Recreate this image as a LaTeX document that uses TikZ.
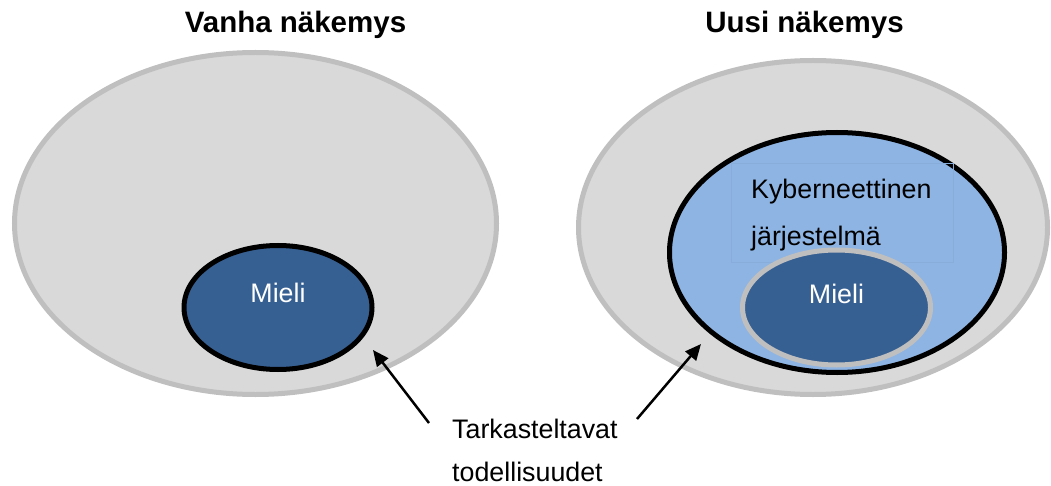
\documentclass[tikz,border=0pt]{standalone}
\usepackage{fontspec}
\setmainfont{Liberation Sans}
\usetikzlibrary{arrows.meta}
\definecolor{areagray}{HTML}{D9D9D9}
\definecolor{rimgray}{HTML}{BFBFBF}
\definecolor{mindblue}{HTML}{376092}
\definecolor{cyberblue}{HTML}{8EB4E3}
\definecolor{boxedge}{HTML}{89ADDA}
\tikzset{
  world/.style={fill=areagray, draw=rimgray, line width=5pt},
  mindring/.style={fill=mindblue, line width=5pt},
  label/.style={font=\fontsize{26.8}{30}\selectfont, anchor=base, inner sep=0pt},
  heading/.style={font=\bfseries\fontsize{29.5}{34}\selectfont, anchor=base, inner sep=0pt},
  pointer/.style={line width=2.5pt, -{Triangle[length=16pt,width=14pt]}}
}
\begin{document}
\begin{tikzpicture}[x=1pt,y=-1pt]
\useasboundingbox (0,0) rectangle (1051,486);

% headings
\node[heading] (hold) at (295.5,33) {Vanha näkemys};
\node[heading] (hnew) at (804.5,33) {Uusi näkemys};

% old view
\draw[world] (255.5,223.5) ellipse [x radius=241, y radius=171];
\draw[mindring, draw=black] (278,307.5) ellipse [x radius=94, y radius=62];
\node[label, text=white] (mind1) at (278,302) {Mieli};
\coordinate (old) at (373,350);

% new view
\draw[world] (813,227.5) ellipse [x radius=234.5, y radius=167];
\draw[fill=cyberblue, draw=black, line width=5pt] (837,252.5) ellipse [x radius=167.5, y radius=120];
\draw[boxedge, line width=0.5pt] (731,163) rectangle (953,262);
\node[label, anchor=base west] (cyb1) at (751,199) {Kyberneettinen};
\node[label, anchor=base west] (cyb2) at (751,245) {järjestelmä};
\draw[mindring, draw=rimgray] (836.5,307.5) ellipse [x radius=94, y radius=57.5];
\node[label, text=white] (mind2) at (836.5,303) {Mieli};
\coordinate (new) at (701,344);

% caption and pointers
\node[label, anchor=base west] (cap1) at (452,438) {Tarkasteltavat};
\node[label, anchor=base west] (cap2) at (452,481) {todellisuudet};
\coordinate (t1) at (429,423);
\coordinate (t2) at (637,419);
\draw[pointer] (t1) -- (old);
\draw[pointer] (t2) -- (new);
\end{tikzpicture}
\end{document}
